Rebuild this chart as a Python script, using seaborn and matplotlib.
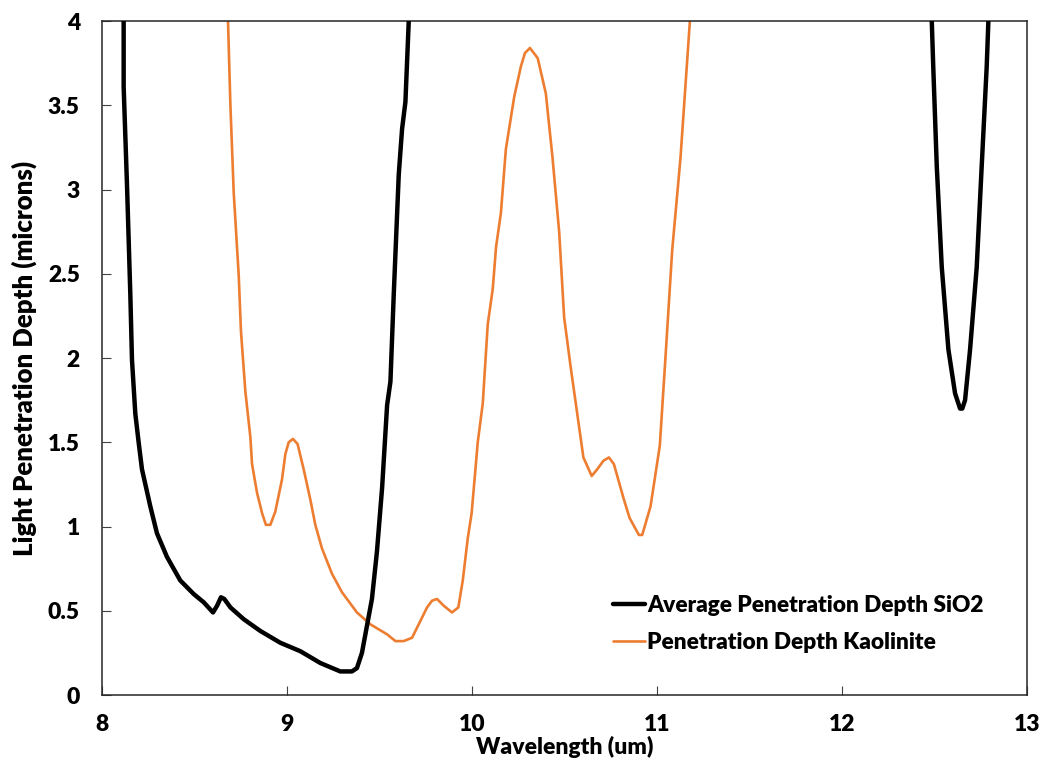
import numpy as np
import pandas as pd
import matplotlib
matplotlib.use("Agg")
import matplotlib.pyplot as plt
import seaborn as sns

# Average penetration depth of SiO2 (microns) vs wavelength (um)
sio2_wl_a = [8.100, 8.117, 8.117, 8.135, 8.153, 8.162, 8.180, 8.198, 8.216, 8.261,
             8.297, 8.351, 8.423, 8.495, 8.550, 8.600, 8.622, 8.643, 8.661, 8.694,
             8.766, 8.856, 8.964, 9.072, 9.180, 9.288, 9.351, 9.378, 9.405, 9.432,
             9.459, 9.486, 9.514, 9.541, 9.559, 9.577, 9.604, 9.622, 9.640, 9.658,
             9.675]
sio2_pd_a = [4.60, 4.00, 3.61, 3.03, 2.38, 1.99, 1.67, 1.50, 1.34, 1.12,
             0.96, 0.82, 0.68, 0.60, 0.55, 0.49, 0.53, 0.58, 0.57, 0.52,
             0.45, 0.38, 0.31, 0.26, 0.19, 0.14, 0.14, 0.16, 0.25, 0.41,
             0.57, 0.85, 1.23, 1.72, 1.86, 2.38, 3.09, 3.36, 3.52, 4.00,
             4.50]
sio2_wl_b = [12.475, 12.485, 12.493, 12.512, 12.539, 12.575, 12.611, 12.638, 12.650,
             12.665, 12.692, 12.728, 12.755, 12.782, 12.791, 12.800]
sio2_pd_b = [4.40, 4.00, 3.73, 3.14, 2.54, 2.05, 1.79, 1.70, 1.70,
             1.75, 2.05, 2.54, 3.14, 3.73, 4.00, 4.40]

# Penetration depth of kaolinite (microns) vs wavelength (um)
kaol_wl = [8.672, 8.681, 8.694, 8.712, 8.739, 8.751, 8.775, 8.802, 8.811, 8.838,
           8.865, 8.886, 8.910, 8.937, 8.973, 8.991, 9.009, 9.032, 9.057, 9.090,
           9.126, 9.153, 9.189, 9.243, 9.297, 9.378, 9.450, 9.541, 9.586, 9.631,
           9.676, 9.721, 9.757, 9.784, 9.811, 9.847, 9.892, 9.926, 9.950, 9.977,
           9.998, 10.031, 10.058, 10.085, 10.112, 10.130, 10.156, 10.183, 10.228, 10.264,
           10.286, 10.313, 10.355, 10.399, 10.435, 10.471, 10.498, 10.534, 10.561, 10.602,
           10.647, 10.677, 10.710, 10.740, 10.767, 10.821, 10.852, 10.902, 10.920, 10.965,
           11.015, 11.046, 11.082, 11.127, 11.177, 11.190]
kaol_pd = [4.40, 4.00, 3.50, 2.98, 2.49, 2.16, 1.80, 1.53, 1.37, 1.20,
           1.08, 1.01, 1.01, 1.09, 1.28, 1.43, 1.50, 1.52, 1.49, 1.34,
           1.16, 1.01, 0.87, 0.72, 0.61, 0.49, 0.42, 0.36, 0.32, 0.32,
           0.34, 0.44, 0.52, 0.56, 0.57, 0.53, 0.49, 0.52, 0.68, 0.93,
           1.08, 1.50, 1.73, 2.20, 2.41, 2.66, 2.86, 3.24, 3.55, 3.73,
           3.81, 3.84, 3.78, 3.57, 3.19, 2.75, 2.24, 1.94, 1.73, 1.41,
           1.30, 1.34, 1.39, 1.41, 1.37, 1.16, 1.05, 0.95, 0.95, 1.12,
           1.48, 2.01, 2.64, 3.19, 3.99, 4.40]

x_ticks = [8, 9, 10, 11, 12, 13]
y_ticks = [0, 0.5, 1, 1.5, 2, 2.5, 3, 3.5, 4]
y_tick_labels = ["0", "0.5", "1", "1.5", "2", "2.5", "3", "3.5", "4"]

sio2_a = pd.DataFrame({"wl": sio2_wl_a, "depth": sio2_pd_a})
sio2_b = pd.DataFrame({"wl": sio2_wl_b, "depth": sio2_pd_b})
kaol = pd.DataFrame({"wl": kaol_wl, "depth": kaol_pd})

sns.set_theme(style="white")
plt.rcParams["font.family"] = ["Lato", "DejaVu Sans"]
plt.rcParams["text.color"] = "black"
plt.rcParams["axes.labelcolor"] = "black"
plt.rcParams["xtick.color"] = "black"
plt.rcParams["ytick.color"] = "black"

W = "heavy"
FS_TICK = 16.5
FS_LEG = 16.3
FS_XLAB = 16.5
FS_YLAB = 18.5

fig = plt.figure(figsize=(10.43, 7.62), dpi=100)
ax = fig.add_axes([0.0978, 0.0879, 0.9847 - 0.0978, 0.9724 - 0.0879])

orange = "#ED7D31"
sns.lineplot(data=kaol, x="wl", y="depth", ax=ax, color=orange, lw=1.9,
             sort=False, estimator=None, zorder=2)
sns.lineplot(data=sio2_a, x="wl", y="depth", ax=ax, color="black", lw=3.2,
             sort=False, estimator=None, zorder=3)
sns.lineplot(data=sio2_b, x="wl", y="depth", ax=ax, color="black", lw=3.2,
             sort=False, estimator=None, zorder=3)

ax.set_xlim(8, 13)
ax.set_ylim(0, 4)
ax.set_xticks(x_ticks)
ax.set_xticklabels([str(t) for t in x_ticks])
ax.set_yticks(y_ticks)
ax.set_yticklabels(y_tick_labels)
ax.tick_params(axis="both", direction="in", length=6.5, width=0.8,
               color="#404040", labelsize=FS_TICK, bottom=True, left=True)
ax.tick_params(axis="x", pad=14)
ax.tick_params(axis="y", pad=16)
for lab in ax.get_xticklabels() + ax.get_yticklabels():
    lab.set_fontweight(W)

for side in ["left", "right", "top", "bottom"]:
    ax.spines[side].set_visible(True)
    ax.spines[side].set_color("#262626")
    ax.spines[side].set_linewidth(1.1)

ax.set_xlabel("Wavelength (um)", fontsize=FS_XLAB, fontweight=W, labelpad=0.5)
ax.set_ylabel("Light Penetration Depth (microns)", fontsize=FS_YLAB, fontweight=W,
              labelpad=8)

lines = ax.get_lines()
handles = [lines[1], lines[0]]
labels = ["Average Penetration Depth SiO2", "Penetration Depth Kaolinite"]
leg = ax.legend(handles, labels, loc="upper left", bbox_to_anchor=(0.5525, 0.148),
                frameon=False, fontsize=FS_LEG, handlelength=1.42, handletextpad=0.1,
                labelspacing=0.69, borderaxespad=0, borderpad=0)
for t in leg.get_texts():
    t.set_fontweight(W)

fig.savefig("out.png", dpi=100)
